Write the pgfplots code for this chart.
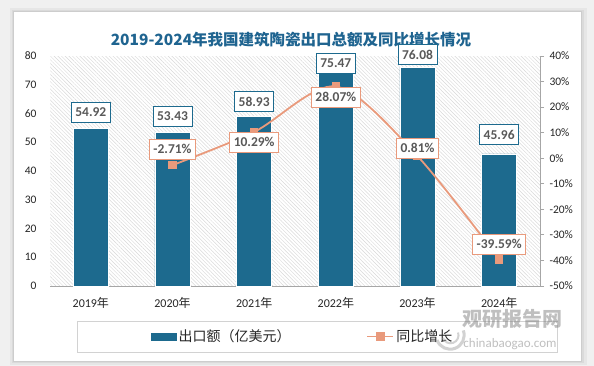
\documentclass[border=0pt]{standalone}
\usepackage{pgfplots}
\pgfplotsset{compat=1.18}
\usepackage{pgfplotstable}
\usepackage{fontspec}
\setmainfont{Carlito}
\newfontfamily\cjk{Noto Sans CJK SC}
\usetikzlibrary{patterns.meta}
\definecolor{barblue}{HTML}{1D6A8E}
\definecolor{lineor}{HTML}{E99A7C}
\definecolor{titleblue}{HTML}{1F6490}
\definecolor{labgray}{HTML}{595959}
\definecolor{axgray}{HTML}{A6A6A6}
\definecolor{ticktext}{HTML}{262626}

\pgfplotstableread{
x y dy
0 54.92 16
1 53.43 16
2 58.93 15
3 75.47 6
4 76.08 12.5
5 45.96 19
}\bardata
\pgfplotstableread{
x y dy
1 -2.71 16
2 10.29 -10
3 28.07 -10.5
4 0.81 8
5 -39.59 15
}\linedata

\begin{document}
\begin{tikzpicture}
% background and card
\fill[gray!12] (0pt,0pt) rectangle (594pt,366pt);
\fill[black,opacity=0.04] (10pt,1pt) rectangle (587pt,358pt);
\fill[black,opacity=0.05] (12pt,3pt) rectangle (584pt,356pt);
\fill[black,opacity=0.06] (13pt,4pt) rectangle (582pt,355pt);
\fill[white] (14pt,5pt) rectangle (581pt,354pt);
% title
\node[font=\cjk\bfseries\fontsize{15.5}{18}\selectfont, text=titleblue] at (291pt,326pt) {2019-2024年我国建筑陶瓷出口总额及同比增长情况};
% legend frame
\draw[gray!35, line width=0.6pt] (77pt,14pt) rectangle (557pt,45pt);

\begin{axis}[
  at={(50pt,80pt)}, anchor=south west,
  scale only axis, width=490pt, height=230pt,
  xmin=-0.5, xmax=5.5, ymin=0, ymax=80,
  clip=false,
  axis background/.style={pattern={Lines[angle=-45,distance=2.6pt,line width=0.45pt]}, pattern color=gray!30},
  axis x line*=bottom, axis y line*=left,
  x axis line style={draw=axgray, line width=0.8pt},
  y axis line style={draw=none},
  xtick={0,...,5},
  xticklabels={2019{\cjk 年},2020{\cjk 年},2021{\cjk 年},2022{\cjk 年},2023{\cjk 年},2024{\cjk 年}},
  ytick={0,10,...,80},
  xtick style={draw=none}, ytick style={draw=none},
  /pgf/number format/assume math mode=true,
  xticklabel style={font=\fontsize{12}{14}\selectfont, text=ticktext, yshift=-8pt},
  yticklabel style={font=\fontsize{11.5}{13}\selectfont, text=ticktext, anchor=east, xshift=-10pt},
]
\addplot[ybar, bar width=0.43, fill=barblue, draw=white, line width=0.7pt,
  visualization depends on={\thisrow{dy} \as \labdy},
  nodes near coords={\pgfmathprintnumber[fixed,fixed zerofill,precision=2,assume math mode=true]{\pgfplotspointmeta}},
  nodes near coords style={font=\fontsize{13.5}{15}\selectfont\bfseries, text=labgray, fill=white, draw=barblue, line width=0.8pt, inner xsep=4pt, inner ysep=2pt, minimum height=20pt, anchor=center, yshift=\labdy pt},
] table[x=x,y=y] {\bardata};
\end{axis}

\begin{axis}[
  at={(50pt,80pt)}, anchor=south west,
  scale only axis, width=490pt, height=230pt,
  xmin=-0.5, xmax=5.5, ymin=-50, ymax=40,
  clip=false,
  axis x line=none, axis y line*=right,
  y axis line style={draw=axgray, line width=0.8pt},
  ytick={-50,-40,...,40},
  ytick style={draw=axgray, line width=0.8pt},
  tick align=outside, major tick length=4pt,
  yticklabel={\pgfmathprintnumber[assume math mode=true]{\tick}\%},
  yticklabel style={font=\fontsize{11.5}{13}\selectfont, text=ticktext, anchor=west, xshift=2pt},
  legend style={draw=none, fill=none, at={(0.206,-0.2196)}, anchor=west, inner sep=0pt,
    font=\cjk\fontsize{14}{16}\selectfont, text=ticktext, legend columns=2,
    /tikz/every even column/.append style={column sep=74pt}},
  legend cell align=left,
]
\addlegendimage{legend image code/.code={\fill[barblue] (0pt,-3.5pt) rectangle (25pt,3.5pt);}}
\addlegendentry{出口额（亿美元）}
\addplot[color=lineor, line width=1.8pt, smooth, tension=0.5,
  mark=square*, mark size=3.8pt, mark options={fill=lineor, draw=lineor, line width=0pt},
  legend image code/.code={\draw[lineor, line width=1.8pt] (0pt,0pt) -- (26pt,0pt); \fill[lineor] (9.2pt,-3.8pt) rectangle (16.8pt,3.8pt);},
  visualization depends on={\thisrow{dy} \as \labdy},
  nodes near coords={\pgfmathprintnumber[fixed,fixed zerofill,precision=2,assume math mode=true]{\pgfplotspointmeta}\%},
  nodes near coords style={font=\fontsize{13.5}{15}\selectfont\bfseries, text=labgray, fill=white, draw=lineor, line width=0.8pt, inner xsep=4pt, inner ysep=2pt, minimum height=20pt, anchor=center, yshift=\labdy pt},
] table[x=x,y=y] {\linedata};
\addlegendentry{同比增长}
\end{axis}

% watermark
\begin{scope}[opacity=0.5]
\draw[gray!70, line width=3pt] (437pt,26pt) arc[start angle=200, end angle=380, radius=14pt];
\draw[gray!70, line width=2pt] (443pt,28pt) arc[start angle=200, end angle=380, radius=8pt];
\node[font=\cjk\bfseries\fontsize{20}{22}\selectfont, text=gray] at (512pt,47pt) {观研报告网};
\node[font=\fontsize{13}{15}\selectfont, text=gray] at (510pt,22pt) {chinabaogao.com};
\end{scope}
\end{tikzpicture}
\end{document}
